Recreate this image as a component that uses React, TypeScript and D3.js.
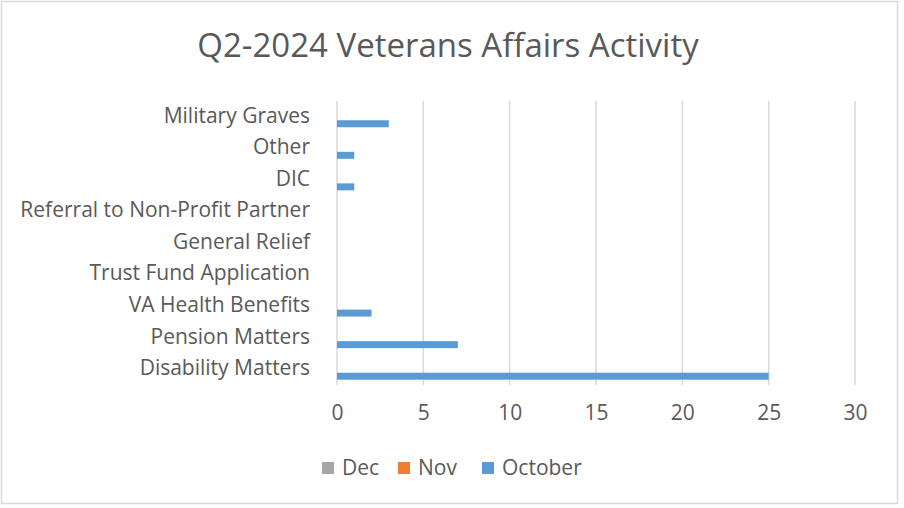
import { useEffect, useRef } from 'react'
import * as d3 from 'd3'

const categories = [
  'Disability Matters',
  'Pension Matters',
  'VA Health Benefits',
  'Trust Fund Application',
  'General Relief',
  'Referral to Non-Profit Partner',
  'DIC',
  'Other',
  'Military Graves',
]
const seriesNames = ['Dec', 'Nov', 'October']
const decValues = [0, 0, 0, 0, 0, 0, 0, 0, 0]
const novValues = [0, 0, 0, 0, 0, 0, 0, 0, 0]
const octoberValues = [25, 7, 2, 0, 0, 0, 1, 1, 3]
const xTicks = [0, 5, 10, 15, 20, 25, 30]
const colors = ['#A5A5A5', '#ED7D31', '#5B9BD5']

const width = 904
const height = 508
const margin = { top: 101, right: 49, bottom: 123, left: 337 }
const font = '"Open Sans", Lato, sans-serif'
const textColor = '#595959'

const App = () => {
  const xAxisRef = useRef<SVGGElement>(null)

  const values = [decValues, novValues, octoberValues]

  const xScale = d3
    .scaleLinear()
    .domain([0, 30])
    .range([margin.left, width - margin.right])

  // first category sits at the bottom, like Excel
  const yScale = d3
    .scaleBand()
    .domain([...categories].reverse())
    .range([margin.top, height - margin.bottom])

  const inner = d3
    .scaleBand()
    .domain(seriesNames)
    .range([0, yScale.bandwidth()])
    .paddingOuter(0.76)

  useEffect(() => {
    if (!xAxisRef.current) return
    const g = d3.select(xAxisRef.current)
    g.call(
      d3
        .axisBottom(xScale)
        .tickValues(xTicks)
        .tickSize(0)
        .tickPadding(20),
    )
    g.select('.domain').remove()
    g.selectAll('text')
      .attr('fill', textColor)
      .attr('font-size', 21)
      .attr('font-family', font)
  }, [])

  const legendItems = [
    { name: 'Dec', x: 322 },
    { name: 'Nov', x: 398 },
    { name: 'October', x: 482 },
  ]

  return (
    <div style={{ position: 'absolute', left: 0, top: 0 }}>
      <svg width={width} height={height} style={{ display: 'block' }}>
        <rect x={0} y={0} width={width} height={height} fill="#fff" />
        <rect
          x={1.5}
          y={1.5}
          width={896}
          height={502}
          fill="#fff"
          stroke="#D9D9D9"
          strokeWidth={1.5}
        />
        <text
          x={448}
          y={57}
          textAnchor="middle"
          fontSize={33}
          fontFamily={font}
          fill={textColor}
        >
          Q2-2024 Veterans Affairs Activity
        </text>

        {xTicks.map(t => (
          <line
            key={t}
            x1={xScale(t)}
            x2={xScale(t)}
            y1={margin.top}
            y2={height - margin.bottom}
            stroke="#D9D9D9"
            strokeWidth={1.5}
          />
        ))}

        {seriesNames.map((s, si) =>
          categories.map((c, ci) => (
            <rect
              key={s + c}
              x={xScale(0)}
              y={(yScale(c) ?? 0) + (inner(s) ?? 0)}
              width={xScale(values[si][ci]) - xScale(0)}
              height={inner.bandwidth()}
              fill={colors[si]}
            />
          )),
        )}

        {categories.map(c => (
          <text
            key={c}
            x={310}
            y={(yScale(c) ?? 0) + yScale.bandwidth() / 2 - 1.5}
            dy="0.35em"
            textAnchor="end"
            fontSize={21}
            fontFamily={font}
            fill={textColor}
          >
            {c}
          </text>
        ))}

        <g ref={xAxisRef} transform={`translate(0, ${height - margin.bottom})`} />

        {legendItems.map((d, i) => (
          <g key={d.name}>
            <rect x={d.x} y={462} width={12} height={12} fill={colors[i]} />
            <text
              x={d.x + 20}
              y={468}
              dy="0.35em"
              fontSize={21}
              fontFamily={font}
              fill={textColor}
            >
              {d.name}
            </text>
          </g>
        ))}
      </svg>
    </div>
  )
}

export default App
